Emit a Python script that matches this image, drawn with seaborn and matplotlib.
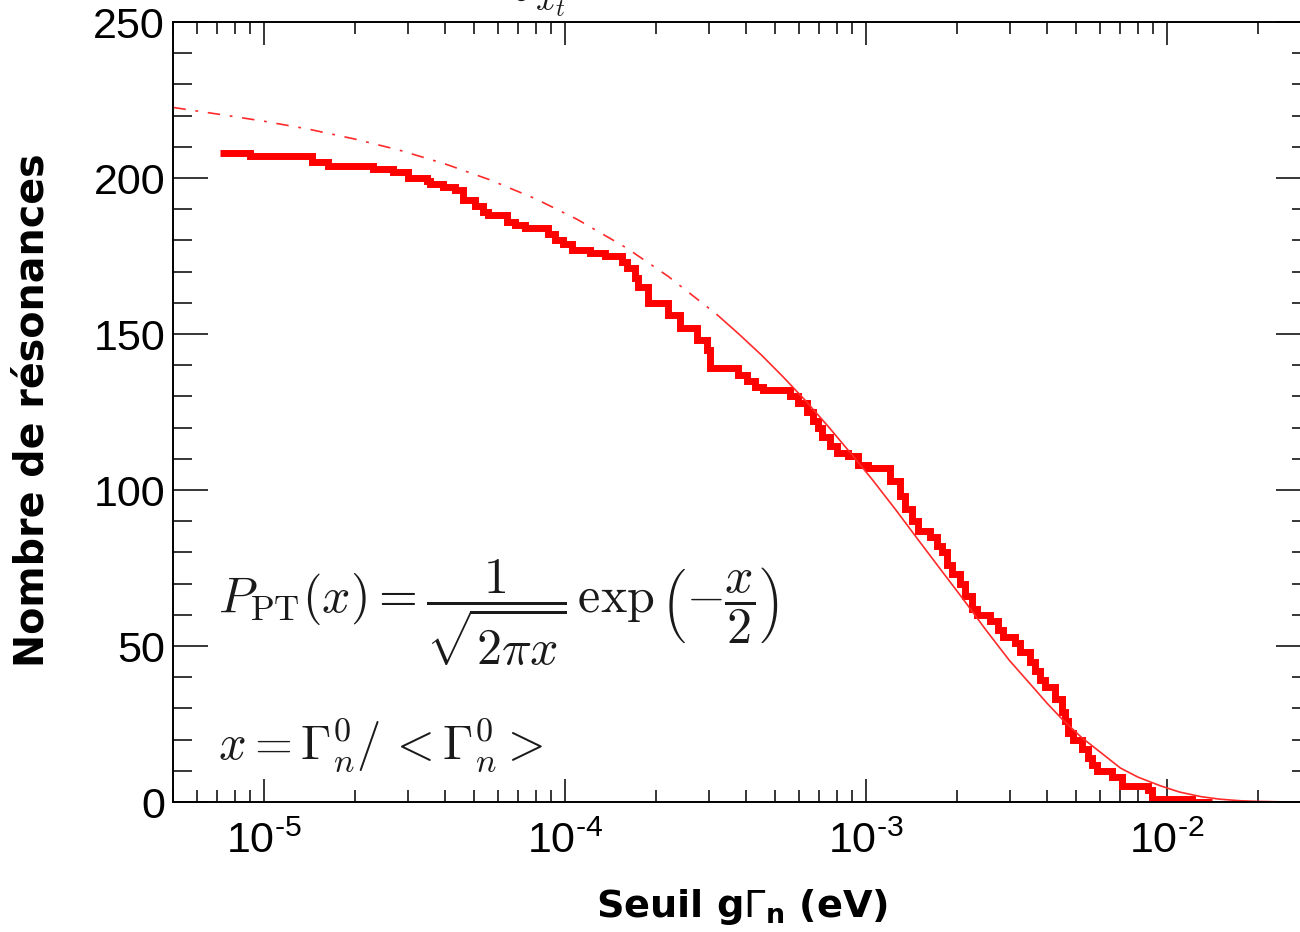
import numpy as np
import pandas as pd
import matplotlib
matplotlib.use("Agg")
import matplotlib.pyplot as plt
import seaborn as sns
from matplotlib.ticker import FixedLocator, FixedFormatter, LogLocator, MultipleLocator, NullFormatter

# Number of resonances whose g*Gamma_n exceeds the threshold (eV), as a staircase
threshold_ev = [
    7.14e-6, 8.98e-6, 1.44e-5, 1.63e-5, 2.30e-5, 2.69e-5, 3.01e-5, 3.48e-5, 3.56e-5, 3.93e-5,
    4.31e-5, 4.58e-5, 5.02e-5, 5.34e-5, 5.55e-5, 6.42e-5, 6.82e-5, 7.36e-5, 8.78e-5, 9.27e-5,
    9.85e-5, 1.055e-4, 1.21e-4, 1.36e-4, 1.55e-4, 1.61e-4, 1.71e-4, 1.75e-4, 1.89e-4, 2.20e-4,
    2.41e-4, 2.75e-4, 2.97e-4, 3.03e-4, 3.76e-4, 4.03e-4, 4.28e-4, 4.55e-4, 5.60e-4, 5.95e-4,
    6.37e-4, 6.67e-4, 6.93e-4, 7.15e-4, 7.59e-4, 8.01e-4, 8.71e-4, 9.40e-4, 1.016e-3, 1.20e-3,
    1.30e-3, 1.35e-3, 1.42e-3, 1.49e-3, 1.63e-3, 1.72e-3, 1.79e-3, 1.86e-3, 1.93e-3, 2.05e-3,
    2.13e-3, 2.25e-3, 2.34e-3, 2.58e-3, 2.75e-3, 2.85e-3, 3.13e-3, 3.25e-3, 3.51e-3, 3.64e-3,
    3.78e-3, 3.93e-3, 4.24e-3, 4.48e-3, 4.58e-3, 4.69e-3, 4.87e-3, 5.22e-3, 5.47e-3, 5.64e-3,
    5.85e-3, 6.56e-3, 7.08e-3, 8.65e-3, 8.91e-3, 1.21e-2, 1.41e-2,
]
n_resonances = [
    208, 207, 205, 204, 203, 202, 200, 199, 198, 197,
    196, 193, 191, 189, 188, 186, 185, 184, 182, 180,
    179, 177, 176, 175, 173, 171, 168, 165, 160, 156,
    152, 148, 145, 139, 137, 135, 133, 132, 130, 128,
    125, 122, 120, 117, 114, 112, 111, 108, 107, 103,
    98, 94, 90, 87, 85, 82, 80, 76, 73, 70,
    66, 62, 60, 58, 55, 53, 51, 48, 45, 42,
    39, 37, 33, 29, 26, 22, 20, 17, 14, 12,
    10, 8, 5, 4, 1, 0, 0,
]

# Porter-Thomas expectation; fitted above pt_fit_start_ev, extrapolated below it
pt_threshold_ev = [
    5.0e-6, 7.0e-6, 1.0e-5, 1.4e-5, 2.0e-5, 2.8e-5, 4.0e-5, 5.6e-5, 8.0e-5, 1.1e-4,
    1.6e-4, 2.2e-4, 3.2e-4, 3.8e-4, 4.5e-4, 5.3e-4, 6.3e-4, 7.5e-4, 9.0e-4, 1.05e-3,
    1.25e-3, 1.5e-3, 1.8e-3, 2.1e-3, 2.5e-3, 3.0e-3, 3.5e-3, 4.0e-3, 4.5e-3, 5.2e-3,
    6.0e-3, 7.0e-3, 8.0e-3, 9.5e-3, 1.1e-2, 1.3e-2, 1.5e-2, 1.75e-2, 2.0e-2, 2.4e-2,
    3.0e-2,
]
pt_count = [
    222.6, 220.5, 218.2, 215.7, 212.5, 209.0, 204.5, 199.5, 193.3, 186.7,
    177.6, 168.5, 156.2, 149.8, 143.2, 136.3, 128.6, 120.3, 111.2, 103.3,
    93.9, 83.7, 73.6, 65.1, 55.2, 45.3, 38.0, 31.6, 26.4, 20.7,
    16.0, 10.9, 8.0, 5.2, 3.2, 1.7, 0.9, 0.4, 0.2, 0.05,
    0.0,
]
pt_fit_start_ev = 3.2e-4

x_tick_values = [1e-5, 1e-4, 1e-3, 1e-2]
x_tick_labels = [r"$\mathregular{10^{\text{-5}}}$", r"$\mathregular{10^{\text{-4}}}$",
                 r"$\mathregular{10^{\text{-3}}}$", r"$\mathregular{10^{\text{-2}}}$"]
y_tick_values = [0, 50, 100, 150, 200, 250]

sns.set_theme(style="white")
plt.rcParams.update({
    "font.family": ["Liberation Sans", "DejaVu Sans"],
    "axes.unicode_minus": False,
    "mathtext.fontset": "custom",
    "mathtext.rm": "Liberation Sans",
    "mathtext.it": "Liberation Sans:italic",
    "mathtext.bf": "Liberation Sans:bold",
    "lines.scale_dashes": False,
    "xtick.direction": "in",
    "ytick.direction": "in",
    "axes.edgecolor": "black",
})

fig = plt.figure(figsize=(13, 9.32), dpi=100)
ax = fig.add_axes([0.13338, 0.13948, 0.87477, 0.83691])
ax.set_xscale("log")

red = "#ff0000"
steps = pd.DataFrame({"threshold": threshold_ev, "count": n_resonances})
sns.lineplot(data=steps, x="threshold", y="count", ax=ax, color=red, lw=5,
             drawstyle="steps-post", estimator=None, sort=False,
             solid_joinstyle="miter", solid_capstyle="butt")

pt = pd.DataFrame({"threshold": pt_threshold_ev, "count": pt_count})
pt_low = pt[pt["threshold"] <= pt_fit_start_ev]
pt_high = pt[pt["threshold"] >= pt_fit_start_ev]
sns.lineplot(data=pt_low, x="threshold", y="count", ax=ax, color="#ff2a2a", lw=1.2,
             linestyle=(0, (9, 7, 2, 7)), estimator=None, sort=False)
sns.lineplot(data=pt_high, x="threshold", y="count", ax=ax, color="#ff2a2a", lw=1.2,
             estimator=None, sort=False)

ax.set_xlim(5e-6, 3e-2)
ax.set_ylim(0, 250)

ax.xaxis.set_major_locator(FixedLocator(x_tick_values))
ax.xaxis.set_major_formatter(FixedFormatter(x_tick_labels))
ax.xaxis.set_minor_locator(LogLocator(base=10, subs=np.arange(2, 10), numticks=100))
ax.xaxis.set_minor_formatter(NullFormatter())
ax.yaxis.set_major_locator(FixedLocator(y_tick_values))
ax.yaxis.set_minor_locator(MultipleLocator(10))

ax.tick_params(axis="y", which="major", length=25.5, width=1.1, left=True, right=True,
               labelsize=31, pad=6, colors="black")
ax.tick_params(axis="y", which="minor", length=13.5, width=1.1, left=True, right=True,
               colors="black")
ax.tick_params(axis="x", which="major", length=16.5, width=1.1, bottom=True, top=True,
               labelsize=31, pad=14, colors="black")
ax.tick_params(axis="x", which="minor", length=8.5, width=1.1, bottom=True, top=True,
               colors="black")
for spine in ax.spines.values():
    spine.set_visible(True)
    spine.set_linewidth(1.4)
    spine.set_color("black")

ax.set_xlabel(r"Seuil g$\Gamma_{\mathbf{n}}$ (eV)", fontsize=27.5, fontweight="bold",
              fontfamily="DejaVu Sans", math_fontfamily="dejavusans", color="black")
ax.xaxis.set_label_coords(0.5, -0.1346)
ax.xaxis.label.set_va("center")
ax.set_ylabel("Nombre de résonances", fontsize=28.5, fontweight="bold",
              fontfamily="DejaVu Sans", color="black")
ax.yaxis.set_label_coords(-0.1243, 0.5026)
ax.yaxis.label.set_va("center")

ink = "#1a1a1a"
fig.text(218 / 1300, 1 - 613 / 932,
         r"$P_{\mathrm{PT}}(x) = \dfrac{1}{\sqrt{2\pi x}}\,\exp\left(-\dfrac{x}{2}\right)$",
         fontsize=36, math_fontfamily="cm", color=ink, ha="left", va="center")
fig.text(218 / 1300, 1 - 745 / 932, r"$x = \Gamma_n^0/\,<\Gamma_n^0>$",
         fontsize=35, math_fontfamily="cm", color=ink, ha="left", va="center")
fig.text(512 / 1300, 1 - 18 / 932, r"$\int_{x_t}$",
         fontsize=36, math_fontfamily="cm", color=ink, ha="left", va="bottom")

fig.savefig("out.png", dpi=100)
